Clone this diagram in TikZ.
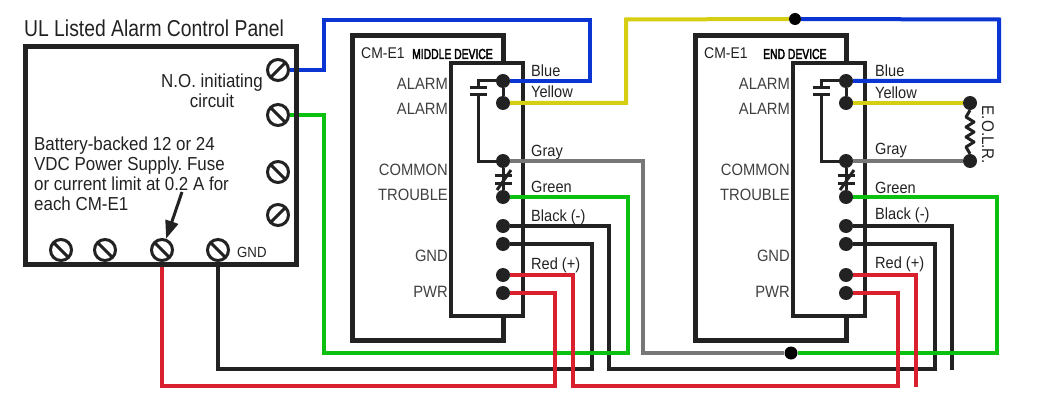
\documentclass[tikz,border=0pt]{standalone}
\usepackage{fontspec}
\setmainfont[FakeStretch=0.9]{Liberation Sans}
\newfontfamily\titlef[FakeStretch=0.84]{Liberation Sans}
\newfontfamily\heavy[FakeStretch=0.714,FakeBold=2.5]{Liberation Sans}
\frenchspacing
\usetikzlibrary{arrows.meta,calc}
\definecolor{wblue}{HTML}{0B35D2}
\definecolor{wyellow}{HTML}{D6CE12}
\definecolor{wgray}{HTML}{777777}
\definecolor{wgreen}{HTML}{0CC012}
\definecolor{wblack}{HTML}{222222}
\definecolor{wred}{HTML}{D9202F}
\tikzset{
  x=1pt,y=-1pt,
  boxline/.style={draw=wblack,line width=5pt,line join=miter},
  innerline/.style={draw=wblack,line width=3.5pt},
  wire/.style={line width=4pt,line join=miter},
  redwire/.style={draw=wred,line width=3.4pt,line join=miter},
  thinwire/.style={draw=wblack,line width=3.3pt,line join=miter},
  contact/.style={draw=wblack,line width=3pt,line join=miter},
  dotnode/.style={circle,fill=wblack,inner sep=0pt,minimum size=14pt},
  smalldot/.style={circle,fill=black,inner sep=0pt,minimum size=12pt},
  screw/.style={circle,draw=wblack,line width=3pt,fill=white,inner sep=0pt,minimum size=21pt},
  fwd/.style={screw,path picture={\draw[wblack,line width=3pt] (path picture bounding box.south west)--(path picture bounding box.north east);}},
  bck/.style={screw,path picture={\draw[wblack,line width=3pt] (path picture bounding box.north west)--(path picture bounding box.south east);}},
  lab/.style={inner sep=0pt,text=wblack,font=\fontsize{18.8}{20}\selectfont},
  devl/.style={lab,anchor=base east,font=\fontsize{16.4}{18}\selectfont,text=black!75},
  wirel/.style={lab,anchor=base west,font=\fontsize{16.2}{18}\selectfont},
  cml/.style={lab,anchor=base west,font=\fontsize{15.5}{18}\selectfont},
  devh/.style={inner sep=0pt,anchor=base west,font=\heavy\fontsize{14.5}{16}\selectfont},
}
\begin{document}
\begin{tikzpicture}
\useasboundingbox (0,0) rectangle (1043,409);
% panel
\node[lab,anchor=base west,font=\titlef\fontsize{23}{24}\selectfont] (title) at (24,37) {UL Listed Alarm Control Panel};
\draw[boxline] (25,47) rectangle (296,264);
\node[lab,align=center,anchor=north] (noc) at (212,73.3) {N.O. initiating\\circuit};
\node[lab,align=left,anchor=north west] (batt) at (34,136.3) {Battery-backed 12 or 24\\VDC Power Supply. Fuse\\or current limit at 0.2 A for\\each CM-E1};
\node[lab,anchor=base west,font=\fontsize{14.7}{18}\selectfont] (gndp) at (237,257) {GND};
\node[fwd] (s1) at (278,70) {};
\node[bck] (s2) at (278,115) {};
\node[bck] (s3) at (278,172) {};
\node[fwd] (s4) at (278,215) {};
\node[bck] (s5) at (61,250) {};
\node[bck] (s6) at (105,250) {};
\node[bck] (s7) at (162,250) {};
\node[bck] (s8) at (218,250) {};
\coordinate (arrs) at (182,192);
\draw[wblack,line width=3pt,-{Triangle[length=18pt,width=13pt]}] (arrs) -- (s7.70);
% device boxes
\draw[boxline] (503,62) -- (503,36) -- (352,36) -- (352,340) -- (503,340) -- (503,316);
\draw[innerline] (451,63) rectangle (523,316);
\draw[boxline] (846,62) -- (846,36) -- (695,36) -- (695,340) -- (846,340) -- (846,316);
\draw[innerline] (793,63) rectangle (865,316);
% device labels
\node[cml] (cm1) at (361,59) {CM-E1};
\node[devh] (md) at (412,59) {MIDDLE DEVICE};
\node[cml] (cm2) at (704,59) {CM-E1};
\node[devh] (ed) at (763,59) {END DEVICE};
\foreach \nm/\xr in {a/448,b/790}{
  \node[devl] (\nm l1) at (\xr,90) {ALARM};
  \node[devl] (\nm l2) at (\xr,114) {ALARM};
  \node[devl] (\nm l3) at (\xr,175) {COMMON};
  \node[devl] (\nm l4) at (\xr,200) {TROUBLE};
  \node[devl] (\nm l5) at (\xr,261) {GND};
  \node[devl] (\nm l6) at (\xr,297) {PWR};
}
\node[wirel] (ta1) at (531,77) {Blue};
\node[wirel] (ta2) at (531,98) {Yellow};
\node[wirel] (ta3) at (531,156) {Gray};
\node[wirel] (ta4) at (531,192) {Green};
\node[wirel] (ta5) at (531,221) {Black (-)};
\node[wirel] (ta6) at (531,269) {Red (+)};
\node[wirel] (tb1) at (875,77) {Blue};
\node[wirel] (tb2) at (875,99) {Yellow};
\node[wirel] (tb3) at (875,154) {Gray};
\node[wirel] (tb4) at (875,193) {Green};
\node[wirel] (tb5) at (875,219) {Black (-)};
\node[wirel] (tb6) at (875,268) {Red (+)};
% terminals
\foreach \nm/\xx in {a/503,b/846}{
  \node[dotnode] (\nm1) at (\xx,81) {};
  \node[dotnode] (\nm2) at (\xx,103) {};
  \node[dotnode] (\nm3) at (\xx,161) {};
  \node[dotnode] (\nm4) at (\xx,197) {};
  \node[dotnode] (\nm5) at (\xx,226) {};
  \node[dotnode] (\nm6) at (\xx,244) {};
  \node[dotnode] (\nm7) at (\xx,275) {};
  \node[dotnode] (\nm8) at (\xx,293) {};
  % internal contacts
  \draw[contact] (\nm1) -- (\nm2);
  \draw[contact] (\nm3) -- (\nm4);
  \draw[contact] (\nm1.center) -- ++(-25,0) -- ++(0,7);
  \draw[contact] (\nm3.center) -- ++(-25,0) -- ++(0,-66);
  \draw[contact] ($(\nm1.center)+(-33,7)$) -- ++(17,0);
  \draw[contact] ($(\nm1.center)+(-33,14)$) -- ++(17,0);
  \draw[contact] ($(\nm3.center)+(-8,14)$) -- ++(17,0);
  \draw[contact] ($(\nm3.center)+(-8,22)$) -- ++(17,0);
  \draw[contact] ($(\nm3.center)+(-6,29)$) -- ++(14,-20);
}
% bends
\coordinate (jt) at (795,19);
\coordinate (jb) at (791,353);
\coordinate (rend1) at (916,387);
\coordinate (kend) at (952,370);
\node[smalldot] (jtop) at (jt) {};
\node[smalldot,minimum size=13pt] (jbot) at (jb) {};
\node[dotnode] (r1) at (970,103) {};
\node[dotnode] (r2) at (970,161) {};
% wires: blue
\draw[wblue,wire] (a1.east) -- (590,81) -- (590,20) -- (324,20) -- (324,70) -- (s1.east);
\draw[wblue,wire] (b1.east) -- (999,81) -- (999,19.5) -- (jtop.east);
% yellow
\draw[wyellow,wire] (a2.east) -- (626,103) -- (626,19.5) -- (jtop.west);
\draw[wyellow,wire] (b2.east) -- (r1.west);
% gray
\draw[wgray,wire] (a3.east) -- (643,161) -- (643,353) -- (jbot.west);
\draw[wgray,wire] (b3.east) -- (r2.west);
% black
\draw[thinwire] (a5.east) -- (609,226) -- (609,369) -- (935,369) -- (935,244) -- (b6.east);
\draw[thinwire] (a6.east) -- (592,244) -- (592,369) -- (218,369) -- (s8.south);
\draw[thinwire] (b5.east) -- (952,226) -- (kend);
% green
\draw[wgreen,wire] (a4.east) -- (628,197) -- (628,353) -- (324,353) -- (324,115) -- (s2.east);
\draw[wgreen,wire] (b4.east) -- (997,197) -- (997,353) -- (jbot.east);
% red
\draw[redwire] (a8.east) -- (555,293) -- (555,386) -- (162,386) -- (s7.south);
\draw[redwire] (a7.east) -- (573,275) -- (573,386) -- (898,386) -- (898,293) -- (b8.east);
\draw[redwire] (b7.east) -- (916,275) -- (rend1);
% resistor
\draw[contact,line join=round] (r1.south) -- (966,117) -- (974,122) -- (966,127) -- (974,132) -- (966,137) -- (974,142) -- (966,147) -- (r2.north);
\node[lab,anchor=base,rotate=-90,font=\fontsize{16.9}{18}\selectfont] (eolr) at (982,135) {E.O.L.R.};
% panel edge over wire ends
\draw[wblack,line width=5pt] (296,44.5) -- (296,266.5);
\draw[wblack,line width=5pt] (22.5,264) -- (298.5,264);
\end{tikzpicture}
\end{document}
